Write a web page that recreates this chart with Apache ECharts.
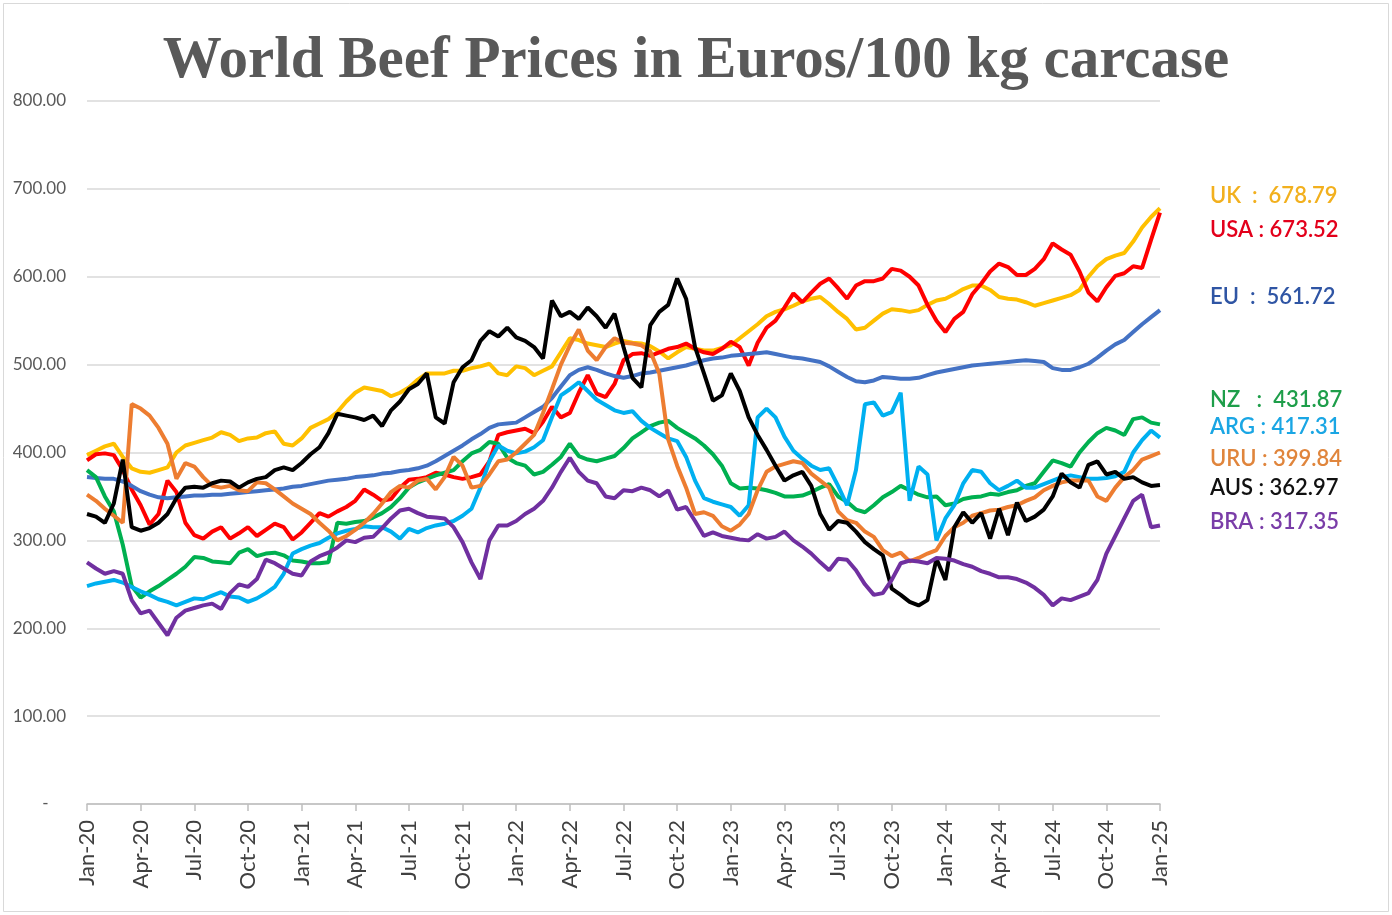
<!DOCTYPE html>
<html>
<head>
<meta charset="utf-8">
<title>World Beef Prices</title>
<script src="https://cdn.jsdelivr.net/npm/echarts@6/dist/echarts.min.js"></script>
<style>
  * { margin: 0; padding: 0; }
  html, body { width: 1392px; height: 915px; background: #fff; overflow: hidden; }
  #main { width: 1392px; height: 915px; }
</style>
</head>
<body>
<div id="main"></div>
<script>
// half-monthly readings, Jan-20 .. Jan-25 (121 points), euros / 100 kg carcase
var tickLabels = ['Jan-20', 'Apr-20', 'Jul-20', 'Oct-20', 'Jan-21', 'Apr-21', 'Jul-21', 'Oct-21',
  'Jan-22', 'Apr-22', 'Jul-22', 'Oct-22', 'Jan-23', 'Apr-23', 'Jul-23', 'Oct-23',
  'Jan-24', 'Apr-24', 'Jul-24', 'Oct-24', 'Jan-25'];

var uk = [397,402,407,410,395,382,378,377,380,383,
  400,408,411,414,417,423,420,413,416,417,
  422,424,410,408,416,428,433,438,446,458,
  468,474,472,470,464,468,474,483,490,490,
  490,493,493,496,498,501,490,488,498,496,
  488,493,498,514,530,528,524,522,520,524,
  527,525,524,521,515,507,514,520,518,516,
  516,519,522,530,538,546,555,560,563,567,
  572,575,577,569,560,552,540,542,550,558,
  563,562,560,562,568,573,575,580,586,590,
  590,585,577,575,574,571,567,570,573,576,
  579,585,600,612,620,624,627,640,656,668,
  678];

var usa = [391,398,399,397,380,358,340,318,330,368,
  355,320,306,302,310,315,302,308,315,305,
  312,319,315,301,309,320,331,327,333,338,
  345,358,352,345,347,360,369,370,372,377,
  375,372,370,372,375,390,420,423,425,427,
  422,435,452,440,445,468,488,467,463,478,
  505,512,513,510,514,518,520,524,518,514,
  512,518,526,520,499,525,542,550,565,581,
  571,582,592,598,587,575,590,595,595,598,
  609,607,600,590,568,550,537,552,560,580,
  592,606,615,611,602,602,609,620,638,631,
  625,606,582,572,588,601,604,612,610,642,
  673];

var eu = [372,371,370,370,367,362,356,352,349,348,
  349,350,351,351,352,352,353,354,355,356,
  357,358,359,361,362,364,366,368,369,370,
  372,373,374,376,377,379,380,382,385,390,
  396,402,408,415,421,428,432,433,434,440,
  446,452,462,475,488,494,497,494,490,487,
  485,487,490,491,493,495,497,499,502,505,
  507,508,510,511,512,513,514,512,510,508,
  507,505,503,498,492,486,481,480,482,486,
  485,484,484,485,488,491,493,495,497,499,
  500,501,502,503,504,505,504,503,496,494,
  494,497,501,508,516,523,528,537,546,554,
  562];

var nz = [380,372,350,333,295,248,235,242,248,255,
  262,270,281,280,276,275,274,286,290,282,
  285,286,283,277,276,274,274,275,320,319,
  321,322,326,331,338,348,360,366,370,374,
  377,380,390,399,403,412,410,394,388,385,
  375,378,386,395,410,396,392,390,393,396,
  405,416,423,430,434,436,428,422,416,408,
  398,385,365,359,360,359,357,354,350,350,
  351,355,360,364,350,344,335,332,340,349,
  355,362,357,352,349,350,340,342,347,349,
  350,353,352,355,357,362,365,378,391,388,
  384,400,412,422,428,425,420,438,440,434,
  432];

var arg = [248,251,253,255,252,247,242,238,233,230,
  226,230,234,233,237,241,236,235,230,234,
  240,247,262,285,290,294,297,303,308,311,
  313,316,315,315,310,302,313,309,314,317,
  319,322,328,336,360,390,408,402,399,401,
  406,414,440,465,472,480,470,460,454,448,
  445,447,436,428,422,416,413,395,368,348,
  344,341,338,328,340,440,450,440,418,402,
  393,385,380,382,362,340,380,455,457,442,
  446,468,345,384,375,300,325,340,365,380,
  378,365,357,362,368,360,360,364,368,372,
  374,372,370,370,371,373,378,400,414,425,
  417];

var uru = [352,345,336,328,320,455,450,442,428,410,
  370,388,384,372,362,360,362,357,356,366,
  365,358,350,342,336,330,320,311,300,305,
  312,320,330,342,355,362,360,368,370,358,
  372,395,385,360,362,375,390,392,400,410,
  420,445,472,500,522,540,516,505,520,530,
  525,524,522,515,490,415,385,360,330,332,
  328,316,311,318,330,357,378,384,387,390,
  388,376,368,360,333,323,320,310,304,289,
  282,286,276,280,285,289,305,315,320,328,
  331,334,335,338,340,345,349,357,362,366,
  368,368,368,350,345,360,372,380,392,396,
  400];

var aus = [330,327,320,342,392,315,311,314,320,330,
  348,360,361,360,365,368,367,360,366,370,
  372,380,383,380,388,398,406,422,444,442,
  440,437,442,430,448,458,472,478,490,440,
  433,480,497,505,527,538,532,542,531,527,
  520,507,573,555,560,552,565,555,542,558,
  520,485,474,545,560,568,598,575,520,490,
  459,465,490,470,440,420,403,385,368,374,
  378,362,330,312,322,320,310,298,290,283,
  245,238,230,226,232,279,255,315,332,320,
  331,302,336,306,343,322,327,335,350,376,
  366,360,386,390,375,378,370,372,366,362,
  363];

var bra = [275,268,262,265,262,232,217,220,206,192,
  212,220,223,226,228,222,240,250,247,256,
  278,274,268,262,260,276,282,286,292,300,
  298,303,304,314,325,334,336,331,327,326,
  325,315,298,275,256,300,317,317,322,330,
  336,345,360,378,394,378,368,365,350,348,
  357,356,360,357,350,357,335,338,322,305,
  309,305,303,301,300,307,302,304,310,300,
  293,285,275,266,279,278,266,250,238,240,
  255,274,277,276,274,280,279,277,273,270,
  265,262,258,258,256,252,246,238,226,234,
  232,236,240,255,285,305,325,345,352,315,
  317];

var names = ['UK', 'USA', 'EU', 'NZ', 'ARG', 'URU', 'AUS', 'BRA'];
var endLabels = ['UK  :  678.79', 'USA : 673.52', 'EU  :  561.72', 'NZ   :  431.87',
  'ARG : 417.31', 'URU : 399.84', 'AUS : 362.97', 'BRA : 317.35'];

var lineColors = ['#FFC000', '#FF0000', '#4472C4', '#00B050', '#00B0F0', '#ED7D31', '#000000', '#7030A0'];
var textColors = ['#F2B01E', '#E3001B', '#2F55A4', '#1E9E4A', '#1AA6E4', '#E0853C', '#111111', '#7A3DA8'];
var labelY = [198, 232, 299, 402, 429, 461, 490, 524];

var allData = [uk, usa, eu, nz, arg, uru, aus, bra];

// category per half month
var periods = [];
for (var k = 0; k < uk.length; k++) {
  periods.push('p' + k);
}

var chart = echarts.init(document.getElementById('main'));

var series = [];
for (var s = 0; s < names.length; s++) {
  series.push({
    name: names[s],
    type: 'line',
    data: allData[s],
    showSymbol: false,
    symbol: 'none',
    lineStyle: { color: lineColors[s], width: 4 },
    itemStyle: { color: lineColors[s] },
    z: 2 + s
  });
}

var graphics = [{
  type: 'rect',
  shape: { x: 3.5, y: 3.5, width: 1385, height: 908 },
  style: { fill: 'none', stroke: '#d9d9d9', lineWidth: 1 },
  silent: true
}];
for (var g = 0; g < endLabels.length; g++) {
  graphics.push({
    type: 'text',
    left: 1210,
    top: labelY[g] - 13,
    style: {
      text: endLabels[g],
      fill: textColors[g],
      font: '600 22px Lato, "Open Sans", sans-serif'
    }
  });
}

chart.setOption({
  animation: false,
  backgroundColor: '#ffffff',
  title: {
    text: 'World Beef Prices in Euros/100 kg carcase',
    left: 'center',
    top: 27,
    textStyle: {
      fontFamily: '"Liberation Serif", "DejaVu Serif", serif',
      fontWeight: 'bold',
      fontSize: 59,
      color: '#595959'
    }
  },
  grid: { left: 87, right: 232, top: 101, bottom: 111 },
  xAxis: {
    type: 'category',
    data: periods,
    boundaryGap: false,
    axisLine: { lineStyle: { color: '#bfbfbf', width: 1.5 } },
    axisTick: { interval: 5, length: 7, lineStyle: { color: '#bfbfbf', width: 1.5 } },
    axisLabel: {
      interval: 5,
      rotate: 90,
      margin: 16,
      color: '#404040',
      fontFamily: 'Lato, "Open Sans", sans-serif',
      fontSize: 22,
      formatter: function (v, idx) { return tickLabels[idx / 6]; }
    },
    splitLine: { show: false }
  },
  yAxis: {
    type: 'value',
    min: 0,
    max: 800,
    interval: 100,
    axisLine: { show: false },
    axisTick: { show: false },
    axisLabel: {
      margin: 21,
      color: '#595959',
      fontFamily: 'Lato, "Open Sans", sans-serif',
      fontSize: 17,
      formatter: function (v) { return v === 0 ? '-    ' : v.toFixed(2); }
    },
    splitLine: { lineStyle: { color: '#d9d9d9', width: 1.5 } }
  },
  graphic: graphics,
  series: series
});
</script>
</body>
</html>
